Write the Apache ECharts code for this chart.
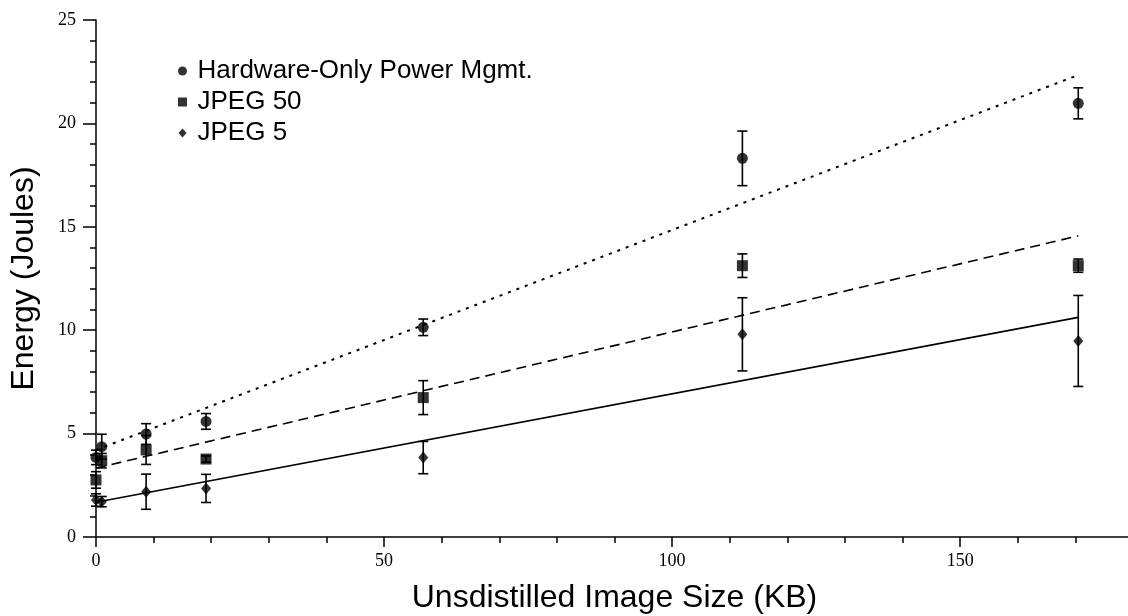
<!DOCTYPE html>
<html>
<head>
<meta charset="utf-8">
<script src="https://cdn.jsdelivr.net/npm/echarts@6/dist/echarts.min.js"></script>
<style>
html,body{margin:0;padding:0;background:#fff;}
#chart{width:1128px;height:616px;}
</style>
</head>
<body>
<div id="chart"></div>
<script>
// ---- data ----
var sizesKB = [0, 1, 8.7, 19.1, 56.8, 112.2, 170.5];
var hwMean  = [3.85, 4.37, 4.98, 5.59, 10.14, 18.31, 20.97];
var hwErr   = [0.35, 0.6, 0.5, 0.38, 0.4, 1.32, 0.75];
var j50Mean = [2.76, 3.69, 4.21, 3.77, 6.74, 13.12, 13.12];
var j50Err  = [0.4, 0.35, 0.7, 0.15, 0.82, 0.57, 0.32];
var j5Mean  = [1.79, 1.71, 2.19, 2.35, 3.84, 9.8, 9.48];
var j5Err   = [0.3, 0.25, 0.85, 0.68, 0.78, 1.77, 2.2];
var fitX    = [0, 170.5];
var hwFit   = [4.21, 22.34];
var j50Fit  = [3.33, 14.56];
var j5Fit   = [1.68, 10.62];
var seriesNames = ['Hardware-Only Power Mgmt.', 'JPEG 50', 'JPEG 5'];
var xTitle = 'Unsdistilled Image Size (KB)';
var yTitle = 'Energy (Joules)';

function pairs(xs, ys) { return xs.map(function (x, i) { return [x, ys[i]]; }); }
function errData(xs, m, e) { return xs.map(function (x, i) { return [x, m[i], e[i]]; }); }

function errRender(params, api) {
  var x = api.value(0), m = api.value(1), e = api.value(2);
  var top = api.coord([x, m + e]);
  var bot = api.coord([x, m - e]);
  var hw = 5;
  var st = { stroke: '#000', lineWidth: 1.6 };
  return {
    type: 'group',
    children: [
      { type: 'line', shape: { x1: top[0], y1: top[1], x2: bot[0], y2: bot[1] }, style: st },
      { type: 'line', shape: { x1: top[0] - hw, y1: top[1], x2: top[0] + hw, y2: top[1] }, style: st },
      { type: 'line', shape: { x1: bot[0] - hw, y1: bot[1], x2: bot[0] + hw, y2: bot[1] }, style: st }
    ]
  };
}

var chart = echarts.init(document.getElementById('chart'), null, { renderer: 'canvas' });
var serif = '"Liberation Serif", "Times New Roman", serif';
var sans = '"Liberation Sans", Arial, sans-serif';

function fitLine(ys, type, w) {
  return {
    type: 'line', data: pairs(fitX, ys), symbol: 'none', silent: true,
    lineStyle: { color: '#000', width: w, type: type }, z: 1
  };
}
function errSeries(m, e) {
  return { type: 'custom', renderItem: errRender, data: errData(sizesKB, m, e), silent: true, z: 2,
           encode: { x: 0, y: 1 } };
}
function scat(name, m, symbol, size) {
  return { type: 'scatter', name: name, data: pairs(sizesKB, m), symbol: symbol, symbolSize: size,
           itemStyle: { color: '#000' }, z: 3 };
}

chart.setOption({
  animation: false,
  backgroundColor: '#fff',
  grid: { left: 96, right: -5, top: 20, bottom: 79, containLabel: false, outerBoundsMode: 'none' },
  legend: {
    data: [
      { name: seriesNames[0], icon: 'circle' },
      { name: seriesNames[1], icon: 'path://M0,0L8,0L8,8L0,8Z' },
      { name: seriesNames[2], icon: 'path://M4.5,0L9,5L4.5,10L0,5Z' }
    ],
    orient: 'vertical', left: 173, top: 53, itemGap: 5,
    itemWidth: 20, itemHeight: 9,
    textStyle: { fontFamily: sans, fontSize: 26, color: '#000' }
  },
  xAxis: {
    type: 'value', min: 0, max: 180, interval: 50,
    name: xTitle, nameLocation: 'middle', nameGap: 45,
    nameTextStyle: { fontFamily: sans, fontSize: 32, color: '#000' },
    axisLine: { show: true, onZero: false, lineStyle: { color: '#000', width: 1.5 } },
    axisTick: { show: true, length: 10, lineStyle: { color: '#000', width: 1.5 } },
    minorTick: { show: true, splitNumber: 5, length: 6, lineStyle: { color: '#000', width: 1.5 } },
    axisLabel: { fontFamily: serif, fontSize: 18, color: '#000', margin: 15, showMaxLabel: false },
    splitLine: { show: false }, minorSplitLine: { show: false }
  },
  yAxis: {
    type: 'value', min: 0, max: 25, interval: 5,
    name: yTitle, nameLocation: 'middle', nameGap: 56,
    nameTextStyle: { fontFamily: sans, fontSize: 32, color: '#000' },
    axisLine: { show: true, onZero: false, lineStyle: { color: '#000', width: 1.5 } },
    axisTick: { show: true, length: 13, lineStyle: { color: '#000', width: 1.5 } },
    minorTick: { show: true, splitNumber: 5, length: 6, lineStyle: { color: '#000', width: 1.5 } },
    axisLabel: { fontFamily: serif, fontSize: 18, color: '#000', margin: 20 },
    splitLine: { show: false }, minorSplitLine: { show: false }
  },
  series: [
    fitLine(hwFit, [3, 6], 2),
    fitLine(j50Fit, [10, 6], 1.6),
    fitLine(j5Fit, 'solid', 1.6),
    errSeries(hwMean, hwErr),
    errSeries(j50Mean, j50Err),
    errSeries(j5Mean, j5Err),
    scat(seriesNames[0], hwMean, 'circle', 11),
    scat(seriesNames[1], j50Mean, 'rect', 11),
    scat(seriesNames[2], j5Mean, 'diamond', [10, 12])
  ]
});
</script>
</body>
</html>
